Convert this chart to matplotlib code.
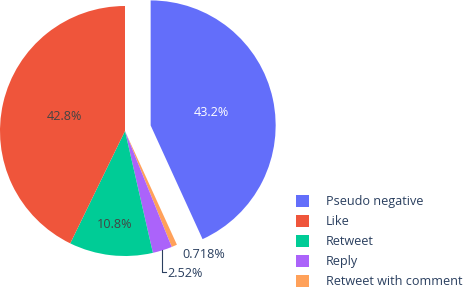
import matplotlib
matplotlib.use("Agg")
import matplotlib.pyplot as plt
import numpy as np

categories = ["Pseudo negative", "Like", "Retweet", "Reply", "Retweet with comment"]
shares = [43.2, 42.8, 10.8, 2.52, 0.718]
colors = ["#636efa", "#EF553B", "#00cc96", "#ab63fa", "#FFA15A"]
pulls = [0.21, 0, 0, 0, 0]

plt.rcParams['font.family'] = ['Open Sans', 'DejaVu Sans']
FS = 9.1
TXT = "#2a3f5f"

W, H = 470, 294
fig = plt.figure(figsize=(W / 100, H / 100), dpi=100)
ax = fig.add_axes([0, 0, 1, 1])

# clockwise drawing order starting at top
order = [0, 4, 3, 2, 1]
cx, cy, R = 125, H - 131, 125
wedges, _ = ax.pie([shares[i] for i in order],
                   colors=[colors[i] for i in order],
                   explode=[pulls[i] * R for i in order],
                   startangle=90, counterclock=False,
                   center=(cx, cy), radius=R, frame=True,
                   wedgeprops=dict(linewidth=0))
ax.set_xlim(0, W)
ax.set_ylim(0, H)
ax.axis('off')

wmap = {order[k]: wedges[k] for k in range(len(order))}

def fmt(v):
    return f"{v:.3g}%"

inside = {0: (0.5, 'white'), 1: (0.5, '#444444'), 2: (0.75, '#444444')}
for i, (rf, col) in inside.items():
    w = wmap[i]
    th = np.deg2rad((w.theta1 + w.theta2) / 2)
    x0, y0 = w.center
    ax.text(x0 + rf * R * np.cos(th), y0 + rf * R * np.sin(th), fmt(shares[i]),
            ha='center', va='center', fontsize=FS, color=col)

# outside labels
w = wmap[4]
th = np.deg2rad((w.theta1 + w.theta2) / 2)
px, py = cx + R * np.cos(th), cy + R * np.sin(th)
ax.text(px + 8, py - 9, fmt(shares[4]), ha='left', va='center', fontsize=FS, color=TXT)

w = wmap[3]
th = np.deg2rad((w.theta1 + w.theta2) / 2)
px, py = cx + R * np.cos(th), cy + R * np.sin(th)
ax.plot([px, px, px + 4], [py, py - 22, py - 22], color=TXT, lw=0.8)
ax.text(px + 5, py - 23, fmt(shares[3]), ha='left', va='center', fontsize=FS, color=TXT)

from matplotlib.patches import Patch
handles = [Patch(facecolor=c, edgecolor='none') for c in colors]
leg = ax.legend(handles, categories, loc='upper left',
                bbox_to_anchor=(296 / W, 1 - 195 / H), frameon=False,
                fontsize=FS, handlelength=1.03, handleheight=1.03,
                handletextpad=1.35, labelspacing=0.55, borderpad=0, borderaxespad=0)
for t in leg.get_texts():
    t.set_color(TXT)

fig.savefig("out.png", dpi=100)
